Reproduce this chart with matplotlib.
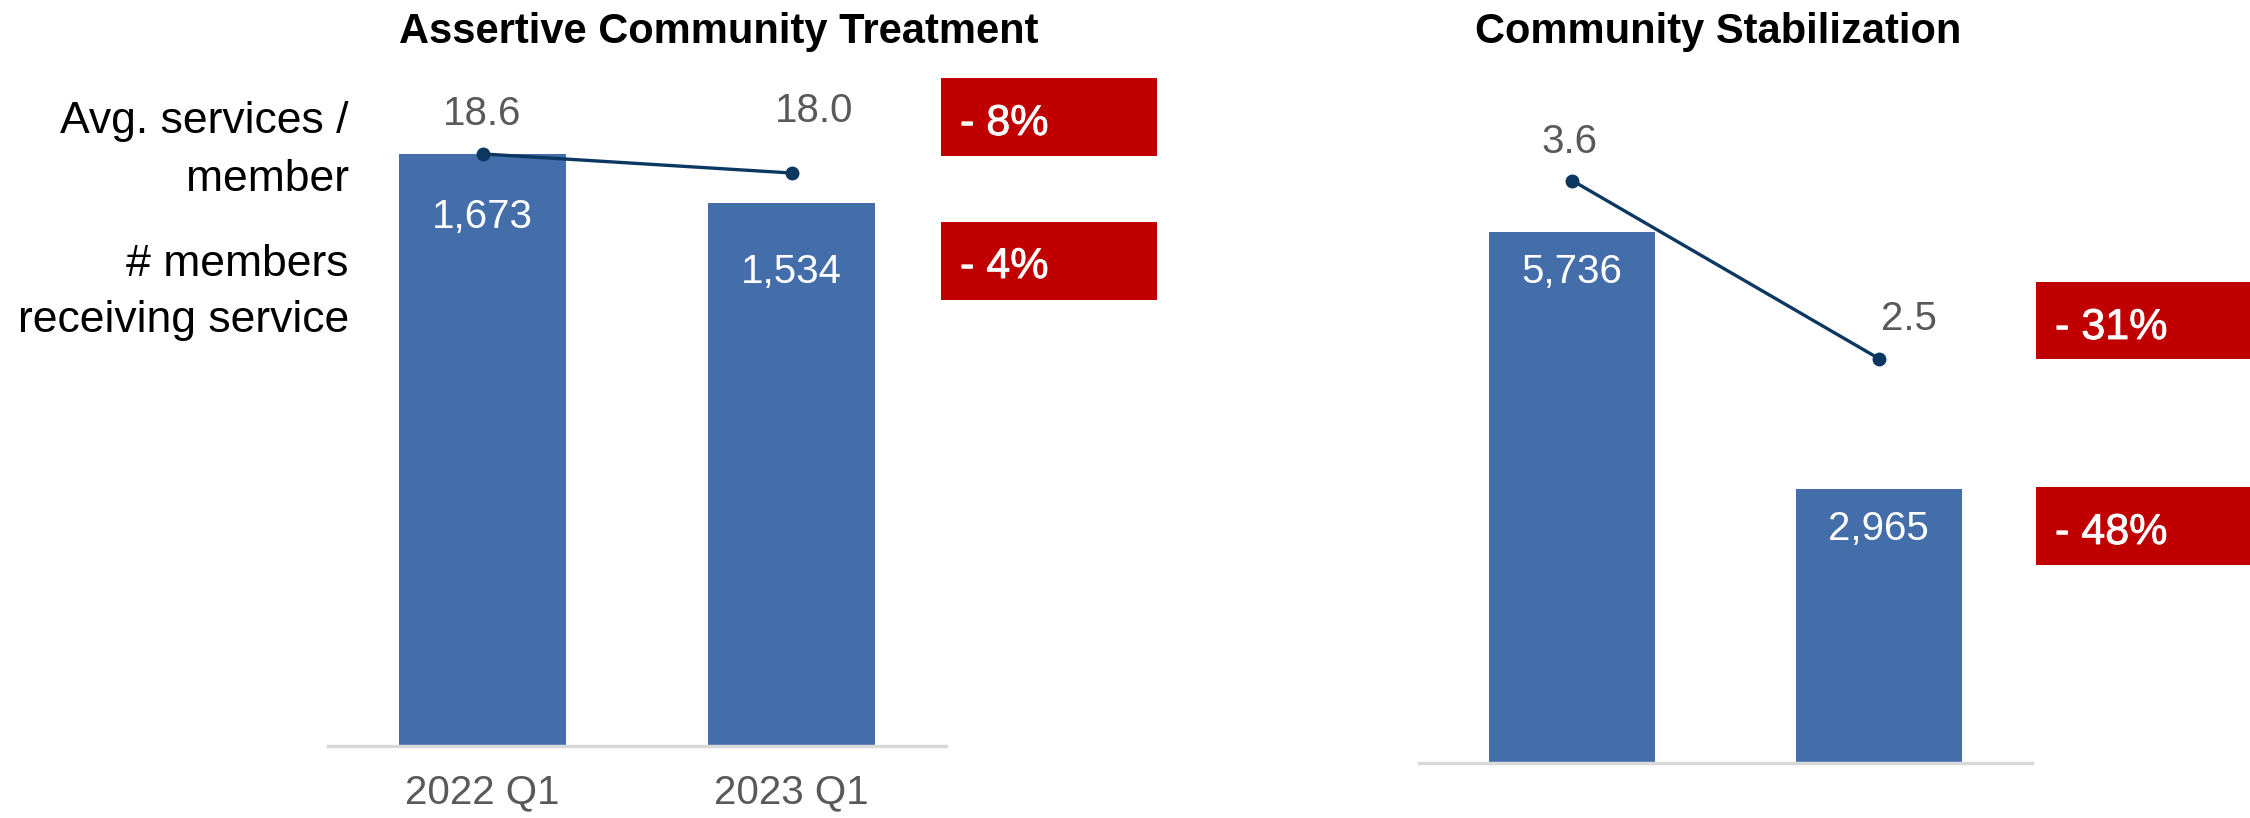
import matplotlib
matplotlib.use("Agg")
import matplotlib.pyplot as plt
import matplotlib.patheffects as pe
from matplotlib.patches import Rectangle

plt.rcParams['font.family'] = ['Liberation Sans', 'DejaVu Sans']

# データ
quarters = ['2022 Q1', '2023 Q1']
act_members = [1673, 1534]
act_avg_services = [18.6, 18.0]
cs_members = [5736, 2965]
cs_avg_services = [3.6, 2.5]
titles = ['Assertive Community Treatment', 'Community Stabilization']
row_labels = [['Avg. services /', 'member'], ['# members', 'receiving service']]
change_labels = [['- 8%', '- 4%'], ['- 31%', '- 48%']]

BAR_COLOR = '#436EAA'
LINE_COLOR = '#0B3761'
LABEL_GRAY = '#595959'
RED = '#C00000'

W, H, DPI = 2250, 818, 100
fig = plt.figure(figsize=(W / DPI, H / DPI), dpi=DPI)


def px_axes(x0, x1, y_top, y_bottom):
    # ピクセル座標で軸を配置
    return fig.add_axes([x0 / W, 1 - y_bottom / H, (x1 - x0) / W, (y_bottom - y_top) / H])


def draw_panel(ax, members, avg, bar_ymax, line_ymax, bar_lab_off, line_lab_off, show_ticks):
    x = list(range(len(members)))
    ax.bar(x, members, width=0.54, color=BAR_COLOR, zorder=2)
    ax.set_xlim(-0.5, 1.5)
    ax.set_ylim(0, bar_ymax)
    for s in ['top', 'right', 'left']:
        ax.spines[s].set_visible(False)
    ax.spines['bottom'].set_color('#D9D9D9')
    ax.spines['bottom'].set_linewidth(2.5)
    ax.set_yticks([])
    ax.set_xticks(x)
    if show_ticks:
        ax.set_xticklabels(quarters, fontsize=29, color=LABEL_GRAY)
    else:
        ax.set_xticklabels([])
    ax.tick_params(axis='x', length=0, pad=20)
    ax.patch.set_alpha(0)

    # 棒ラベル
    for xi, v, off in zip(x, members, bar_lab_off):
        ax.annotate(f'{v:,}', (xi, v), xytext=(0, -off), textcoords='offset pixels',
                    ha='center', va='baseline', fontsize=29, color='white', zorder=3)

    # 折れ線 (第2軸)
    ax2 = ax.twinx()
    ax2.plot(x, avg, color=LINE_COLOR, lw=2.4, marker='o', ms=9, zorder=4)
    ax2.set_ylim(0, line_ymax)
    ax2.set_yticks([])
    for s in ax2.spines.values():
        s.set_visible(False)
    for xi, v, (dx, dy) in zip(x, avg, line_lab_off):
        ax2.annotate(f'{v:.1f}', (xi, v), xytext=(dx, dy), textcoords='offset pixels',
                     ha='center', va='baseline', fontsize=29, color=LABEL_GRAY)
    return ax2


ax_left = px_axes(328, 946, 60, 746)
draw_panel(ax_left, act_members, act_avg_services, 1938, 21.55,
           bar_lab_off=[74, 80], line_lab_off=[(0, 29), (23, 51)], show_ticks=True)

ax_right = px_axes(1419, 2032, 60, 763)
draw_panel(ax_right, cs_members, cs_avg_services, 7600, 4.345,
           bar_lab_off=[51, 51], line_lab_off=[(-3, 28), (30, 29)], show_ticks=False)

# タイトル・行ラベル・変化率ボックス
ov = fig.add_axes([0, 0, 1, 1])
ov.set_xlim(0, W)
ov.set_ylim(H, 0)
ov.axis('off')

ov.text(719, 43, titles[0], ha='center', va='baseline', fontsize=30, fontweight='bold')
ov.text(1718, 43, titles[1], ha='center', va='baseline', fontsize=30, fontweight='bold')

for lines, baselines in zip(row_labels, [[133, 191], [276, 332]]):
    for txt, yb in zip(lines, baselines):
        ov.text(349, yb, txt, ha='right', va='baseline', fontsize=32)

boxes = [(941, 1157, 78, 156, 135), (941, 1157, 222, 300, 278),
         (2036, 2250, 282, 359, 339), (2036, 2250, 487, 565, 544)]
for (x0, x1, y0, y1, yb), txt in zip(boxes, change_labels[0] + change_labels[1]):
    ov.add_patch(Rectangle((x0, y0), x1 - x0, y1 - y0, color=RED, lw=0))
    ov.text(x0 + 19, yb, txt, ha='left', va='baseline', fontsize=31, color='white',
            path_effects=[pe.withStroke(linewidth=0.6, foreground='white')])

fig.savefig('out.png', dpi=DPI)
